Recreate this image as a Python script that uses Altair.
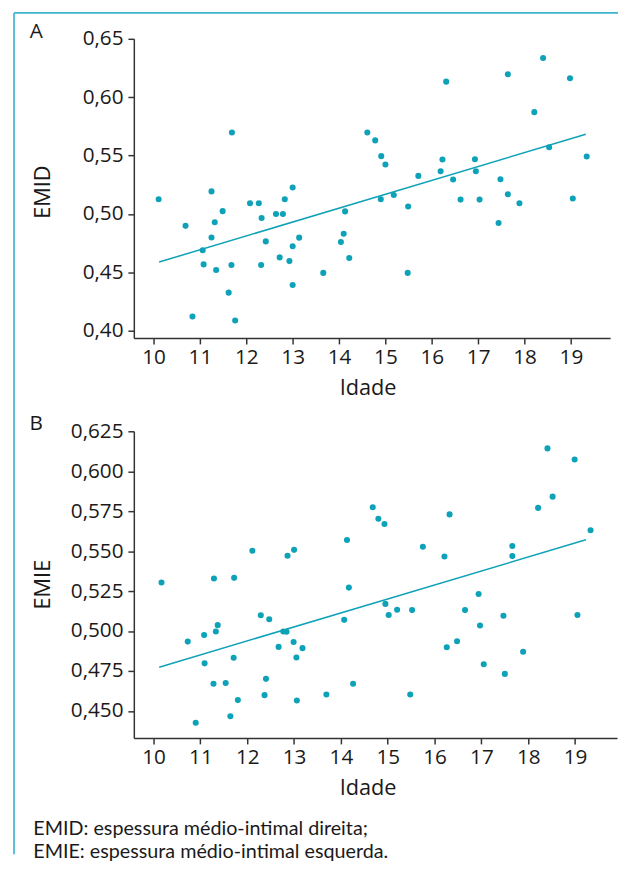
import altair as alt
import pandas as pd

# Panel A (EMID)
a_idade = [10.11, 10.69, 10.84, 11.06, 11.08, 11.25, 11.25, 11.32, 11.35, 11.49, 11.62, 11.68, 11.69, 11.76,
           12.08, 12.27, 12.33, 12.32, 12.42, 12.64, 12.72, 12.79, 12.83, 12.93, 13.0, 13.0, 13.0, 13.14,
           13.66, 14.04, 14.10, 14.13, 14.22,
           14.61, 14.78, 14.91, 15.0, 14.90, 15.18, 15.49, 15.48, 15.71, 16.19, 16.23, 16.31, 16.46, 16.62,
           16.93, 16.95, 17.03, 17.44, 17.48, 17.64, 17.64, 17.89, 18.21, 18.40, 18.53, 18.98, 19.04, 19.34]
a_emid = [0.5126, 0.4898, 0.4121, 0.4689, 0.4568, 0.5193, 0.4799, 0.4929, 0.4520, 0.5024, 0.4326, 0.4563, 0.5698, 0.4087,
          0.5092, 0.5092, 0.4965, 0.4563, 0.4765, 0.4999, 0.4628, 0.4999, 0.5126, 0.4596, 0.5227, 0.4723, 0.4391, 0.4797,
          0.4495, 0.4760, 0.4830, 0.5022, 0.4622,
          0.5698, 0.5630, 0.5495, 0.5424, 0.5126, 0.5162, 0.5064, 0.4495, 0.5326, 0.5365, 0.5466, 0.6133, 0.5295, 0.5123,
          0.5469, 0.5365, 0.5123, 0.4923, 0.5297, 0.6196, 0.5168, 0.5092, 0.5872, 0.6336, 0.5571, 0.6162, 0.5132, 0.5492]
a_line_x = [10.12, 19.32]
a_line_y = [0.4588, 0.5683]

# Panel B (EMIE)
b_idade = [10.17, 10.73, 10.90, 11.08, 11.09, 11.29, 11.28, 11.33, 11.37, 11.54, 11.64, 11.71, 11.72, 11.80,
           12.11, 12.29, 12.37, 12.40, 12.47, 12.67, 12.77, 12.84, 12.86, 12.99, 13.0, 13.05, 13.06, 13.18,
           13.69, 14.07, 14.13, 14.17, 14.26,
           14.68, 14.80, 14.93, 14.95, 15.02, 15.20, 15.52, 15.48, 15.75, 16.21, 16.32, 16.26, 16.48, 16.65,
           16.94, 16.97, 17.05, 17.47, 17.50, 17.66, 17.66, 17.89, 18.21, 18.41, 18.52, 18.99, 19.05, 19.33]
b_emie = [0.5304, 0.4934, 0.4426, 0.4975, 0.4798, 0.5329, 0.4670, 0.4997, 0.5037, 0.4675, 0.4467, 0.4833, 0.5333, 0.4568,
          0.5503, 0.5099, 0.4599, 0.4701, 0.5074, 0.4901, 0.4997, 0.4996, 0.5471, 0.4932, 0.5508, 0.4835, 0.4566, 0.4893,
          0.4603, 0.5070, 0.5570, 0.5272, 0.4670,
          0.5775, 0.5703, 0.5670, 0.5170, 0.5101, 0.5133, 0.5131, 0.4603, 0.5528, 0.5466, 0.5730, 0.4899, 0.4936, 0.5131,
          0.5232, 0.5035, 0.4792, 0.5096, 0.4732, 0.5532, 0.5469, 0.4870, 0.5771, 0.6143, 0.5841, 0.6073, 0.5101, 0.5631]
b_line_x = [10.12, 19.23]
b_line_y = [0.4774, 0.5571]

a_yticks = [0.40, 0.45, 0.50, 0.55, 0.60, 0.65]
b_yticks = [0.450, 0.475, 0.500, 0.525, 0.550, 0.575, 0.600, 0.625]
x_ticks = [10, 11, 12, 13, 14, 15, 16, 17, 18, 19]

TEAL = "#0ea2b8"
BORDER = "#3db5cc"
FONT = "Open Sans"
one = alt.Data(values=[{"k": 0}])


def panel(xs, ys, lx, ly, xdom, ydom, yticks, decimals, width, height, letter, ytitle, ytitle_y, extras):
    df = pd.DataFrame({"x": xs, "y": ys})
    ldf = pd.DataFrame({"x": lx, "y": ly})
    xscale = alt.Scale(domain=xdom, nice=False, zero=False)
    yscale = alt.Scale(domain=ydom, nice=False, zero=False)
    xaxis = alt.Axis(values=x_ticks, title="Idade", grid=False, tickSize=6, labelPadding=3,
                     titleX=237, titleY=57, titleAlign="center", titleBaseline="alphabetic",
                     labelFont=FONT, labelFontSize=21, titleFont=FONT, titleFontSize=22,
                     titleFontWeight="normal", labelColor="#1a1a1a", titleColor="#1a1a1a",
                     domainColor="#333333", tickColor="#333333", domainWidth=1.5, tickWidth=1.5)
    yaxis = alt.Axis(values=yticks, title=ytitle, grid=False, tickSize=6, labelPadding=5,
                     labelExpr=f"replace(format(datum.value, '.{decimals}f'), '.', ',')",
                     titleX=-93, titleY=ytitle_y, titleAlign="center", titleBaseline="middle", titleAngle=270,
                     labelFont=FONT, labelFontSize=21, titleFont=FONT, titleFontSize=22,
                     titleFontWeight="normal", labelColor="#1a1a1a", titleColor="#1a1a1a",
                     domainColor="#333333", tickColor="#333333", domainWidth=1.5, tickWidth=1.5)
    pts = alt.Chart(df).mark_circle(size=38, color=TEAL, opacity=1).encode(
        x=alt.X("x:Q", scale=xscale, axis=xaxis),
        y=alt.Y("y:Q", scale=yscale, axis=yaxis),
    )
    line = alt.Chart(ldf).mark_line(color=TEAL, strokeWidth=1.5).encode(
        x=alt.X("x:Q", scale=xscale),
        y=alt.Y("y:Q", scale=yscale),
    )
    lab = alt.Chart(one).mark_text(text=letter, font=FONT, fontSize=21, color="#1a1a1a",
                                   align="center", baseline="alphabetic").encode(
        x=alt.value(-99), y=alt.value(-1))
    layers = [pts, line, lab] + extras
    return alt.layer(*layers).properties(width=width, height=height)


border_left = alt.Chart(one).mark_rule(color=BORDER, strokeWidth=1.7).encode(
    x=alt.value(-121.5), y=alt.value(-26.3), y2=alt.value(827))
border_top = alt.Chart(one).mark_rule(color=BORDER, strokeWidth=1.7).encode(
    x=alt.value(-121.5), x2=alt.value(491), y=alt.value(-26.3))

foot1 = alt.Chart(one).mark_text(text="EMID: espessura médio-intimal direita;", font="Lato", fontSize=20,
                                 color="#1a1a1a", align="left", baseline="middle").encode(
    x=alt.value(-102), y=alt.value(403))
foot2 = alt.Chart(one).mark_text(text="EMIE: espessura médio-intimal esquerda.", font="Lato", fontSize=20,
                                 color="#1a1a1a", align="left", baseline="middle").encode(
    x=alt.value(-102), y=alt.value(427))

pa = panel(a_idade, a_emid, a_line_x, a_line_y, [9.575, 19.845], [0.39375, 0.65], a_yticks, 2,
           483, 303.4, "A", "EMID", 155, [border_left, border_top])
pb = panel(b_idade, b_emie, b_line_x, b_line_y, [9.579, 19.895], [0.4331, 0.625], b_yticks, 3,
           490, 311, "B", "EMIE", 155, [foot1, foot2])

chart = alt.vconcat(pa, pb, spacing=94, bounds="flush").properties(
    padding={"left": 4.6, "top": -2.8, "right": 0, "bottom": 0}
).configure_view(stroke=None)

chart.save("out.html", embed_options={"renderer": "svg", "actions": False})
